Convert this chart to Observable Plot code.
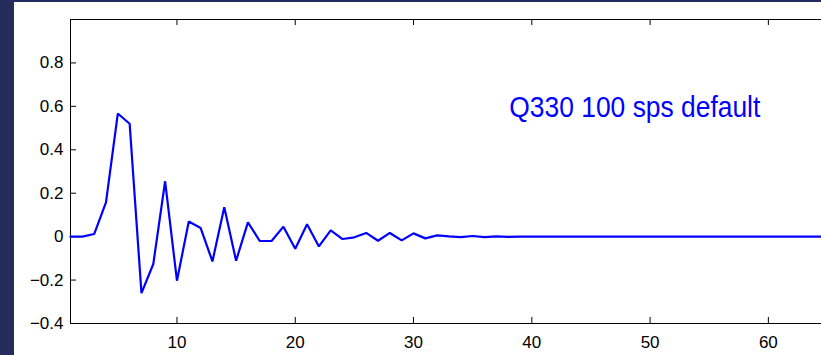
<!DOCTYPE html>
<html>
<head>
<meta charset="utf-8">
<script src="https://cdn.jsdelivr.net/npm/d3@7"></script>
<script src="https://cdn.jsdelivr.net/npm/@observablehq/plot@0.6"></script>
<style>
  html, body { margin: 0; padding: 0; width: 821px; height: 355px; overflow: hidden; background: #252c5b; }
  #panel { position: absolute; left: 14px; top: 2px; width: 830px; height: 353px; background: #ffffff; overflow: hidden; }
  #panel svg { display: block; max-width: none !important; }
</style>
</head>
<body>
<div id="panel"></div>
<script>
// Sample index
const samples = [
  1, 2, 3, 4, 5, 6, 7, 8, 9, 10,
  11, 12, 13, 14, 15, 16, 17, 18, 19, 20,
  21, 22, 23, 24, 25, 26, 27, 28, 29, 30,
  31, 32, 33, 34, 35, 36, 37, 38, 39, 40,
  41, 42, 43, 44, 45, 46, 47, 48, 49, 50,
  51, 52, 53, 54, 55, 56, 57, 58, 59, 60,
  61, 62, 63, 64, 65
];
// Impulse response amplitude
const amplitude = [
  0, 0, 0.012, 0.158, 0.567, 0.52, -0.26, -0.126, 0.255, -0.203,
  0.07, 0.04, -0.114, 0.135, -0.111, 0.066, -0.02, -0.02, 0.046, -0.056,
  0.057, -0.045, 0.029, -0.011, -0.003, 0.017, -0.019, 0.017, -0.017, 0.015,
  -0.008, 0.006, 0.001, -0.002, 0.003, -0.002, 0.001, -0.001, 0, 0,
  0, 0, 0, 0, 0, 0, 0, 0, 0, 0,
  0, 0, 0, 0, 0, 0, 0, 0, 0, 0,
  0, 0, 0, 0, 0
];
const xTicks = [10, 20, 30, 40, 50, 60];
const xTickLabels = ["10", "20", "30", "40", "50", "60"];
const yTicks = [-0.4, -0.2, 0, 0.2, 0.4, 0.6, 0.8];
const yTickLabels = ["\u22120.4", "\u22120.2", "0", "0.2", "0.4", "0.6", "0.8"];
const annotation = ["Q330 100 sps default"];
const annotationAt = [{x: 38.1, y: 0.55}];

const data = samples.map((s, i) => ({x: s, y: amplitude[i]}));
const labels = annotation.map((t, i) => ({text: t, ...annotationAt[i]}));

const W = 830, H = 353;
const mL = 56, mR = 17, mT = 17, mB = 32;
const innerW = W - mL - mR, innerH = H - mT - mB;
const tick = 6;

const chart = Plot.plot({
  width: W,
  height: H,
  marginLeft: mL,
  marginRight: mR,
  marginTop: mT,
  marginBottom: mB,
  style: {background: "#ffffff", fontFamily: "'Liberation Sans', Arial, sans-serif", fontSize: "17px", color: "#000", maxWidth: "none"},
  x: {domain: [1, 65]},
  y: {domain: [-0.4, 1.0]},
  marks: [
    Plot.frame({stroke: "#000", strokeWidth: 1}),
    Plot.ruleY(yTicks, {y: d => d, insetRight: innerW - tick, stroke: "#000"}),
    Plot.ruleY(yTicks, {y: d => d, insetLeft: innerW - tick, stroke: "#000"}),
    Plot.ruleX(xTicks, {x: d => d, insetTop: innerH - tick, stroke: "#000"}),
    Plot.ruleX(xTicks, {x: d => d, insetBottom: innerH - tick, stroke: "#000"}),
    Plot.axisX({ticks: xTicks, tickSize: 0, tickPadding: 12, label: null,
      tickFormat: d => xTickLabels[xTicks.indexOf(d)], fontSize: 17}),
    Plot.axisY({ticks: yTicks, tickSize: 0, tickPadding: 7, label: null,
      tickFormat: d => yTickLabels[yTicks.findIndex(t => Math.abs(t - d) < 1e-9)], fontSize: 17}),
    Plot.line(data, {x: "x", y: "y", stroke: "#0000ff", strokeWidth: 2.2, strokeLinejoin: "miter"}),
    Plot.text(labels, {x: "x", y: "y", text: "text", textAnchor: "start", lineAnchor: "bottom",
      fill: "#0000ff", fontSize: 29, className: "annot"})
  ]
});
document.getElementById("panel").appendChild(chart);
d3.select(chart).selectAll(".annot text").attr("textLength", 251).attr("lengthAdjust", "spacingAndGlyphs");
</script>
</body>
</html>
